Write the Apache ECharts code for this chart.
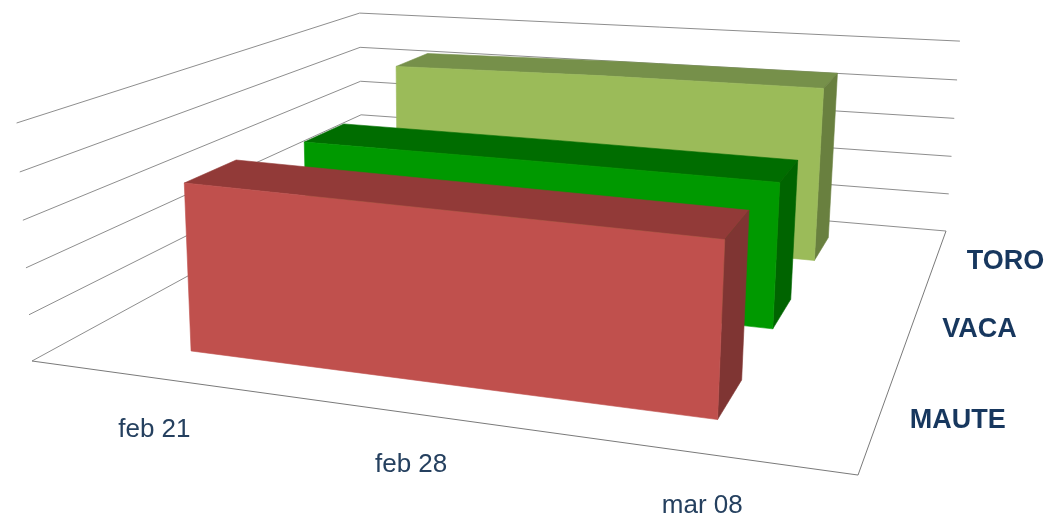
<!DOCTYPE html>
<html>
<head>
<meta charset="utf-8">
<style>html,body{margin:0;padding:0;background:#fff}#c{width:1047px;height:516px;filter:blur(0.4px)}</style>
<script src="https://cdn.jsdelivr.net/npm/echarts@6/dist/echarts.min.js"></script>
</head>
<body>
<div id="c"></div>
<script>
const dates = ['feb 21', 'feb 28', 'mar 08'];
const seriesNames = ['MAUTE', 'VACA', 'TORO'];
const mauteValues = [72.3, 70.8, 69.3];
const vacaValues = [66.5, 66, 65];
const toroValues = [84.4, 85.8, 85.9];
const valueTicks = [0, 20, 40, 60, 80, 100];
const allValues = [mauteValues, vacaValues, toroValues];

const faceColors = [
  { front: '#C0504D', top: '#923A38', side: '#7F3533' },
  { front: '#009900', top: '#006D00', side: '#006400' },
  { front: '#9BBB59', top: '#76904A', side: '#69803F' }
];
const GRID_COLOR = '#8E8E8E';
const FLOOR_COLOR = '#7A7A7A';
const CAT_TEXT = '#25405F';
const SER_TEXT = '#17375E';

// Projective camera: (u along dates, v along series depth, w up) to the page.
const P = { a: 678.4, b: 489.4, p: -16, c: 32,
            d: 32.3, e: -100.3, q: -242.3, f: 361,
            g: -0.17206, h: 0.44031, r: -0.035 };
function project(u, v, w) {
  const den = P.g * u + P.h * v + P.r * w + 1;
  return [(P.a * u + P.b * v + P.p * w + P.c) / den,
          (P.d * u + P.e * v + P.q * w + P.f) / den];
}
// Each series occupies one third of the floor depth, with a gap each side.
const bandNear = i => i / 3 + 0.1;
const bandFar = i => i / 3 + 0.2333;

function toUnit(params, api, cat, val) {
  const pt = api.coord([cat, val]);
  const s = params.coordSys;
  return [(pt[0] - s.x) / s.width, 1 - (pt[1] - s.y) / s.height];
}
function poly(points, color, z) {
  return { type: 'polygon', z2: z, shape: { points },
           style: { fill: color, stroke: color, lineWidth: 0.6 } };
}
function ribbon(idx) {
  return function (params, api) {
    const i = api.value(0);
    const vals = allValues[idx];
    const col = faceColors[idx];
    const near = bandNear(idx), far = bandFar(idx);
    const children = [];
    if (i === 0) {
      const tops = vals.map((v, k) => toUnit(params, api, k, v));
      const nearTop = tops.map(t => project(t[0], near, t[1]));
      const farTop = tops.map(t => project(t[0], far, t[1]));
      const nearBase = tops.map(t => project(t[0], near, 0));
      children.push(poly(farTop.concat(nearTop.slice().reverse()), col.top, 1));
      children.push(poly(nearTop.concat(nearBase.slice().reverse()), col.front, 2));
    }
    if (i === vals.length - 1) {
      const [u0, w0] = toUnit(params, api, i, vals[i]);
      children.push(poly([project(u0, near, 0), project(u0, far, 0),
                          project(u0, far, w0), project(u0, near, w0)], col.side, 1));
    }
    return { type: 'group', children };
  };
}
function walls(params, api) {
  const t = api.value(0);
  const [, w] = toUnit(params, api, 0, t);
  const line = (a, b, color) => ({ type: 'line',
    shape: { x1: a[0], y1: a[1], x2: b[0], y2: b[1] },
    style: { stroke: color, lineWidth: 1 } });
  const A = project(0, 0, w), D = project(0, 1, w), C = project(1, 1, w);
  const children = [line(A, D, GRID_COLOR), line(D, C, GRID_COLOR)];
  if (t === 0) {
    const B = project(1, 0, 0);
    children.push(line(A, B, FLOOR_COLOR), line(B, C, FLOOR_COLOR));
  }
  return { type: 'group', children };
}
function dateLabels(params, api) {
  const i = api.value(0);
  const [u] = toUnit(params, api, i, 0);
  const pt = project(u, 0, 0);
  return { type: 'text', style: { text: dates[i], x: pt[0] + 5, y: pt[1] + 52.5,
    align: 'center', verticalAlign: 'middle',
    font: '26px "Liberation Sans", Arial, sans-serif', fill: CAT_TEXT } };
}
function seriesLabels(params, api) {
  const i = api.value(0);
  const pt = project(1, (bandNear(i) + bandFar(i)) / 2, 0);
  return { type: 'text', style: { text: seriesNames[i], x: pt[0] + 31, y: pt[1] + 2.6,
    align: 'left', verticalAlign: 'middle',
    font: 'bold 27px "Liberation Sans", Arial, sans-serif', fill: SER_TEXT } };
}
const common = { type: 'custom', coordinateSystem: 'cartesian2d', clip: false, silent: true };
const chart = echarts.init(document.getElementById('c'), null, { renderer: 'canvas' });
chart.setOption({
  animation: false,
  backgroundColor: '#ffffff',
  tooltip: { show: false },
  grid: { left: 0, right: 0, top: 0, bottom: 0, containLabel: false },
  xAxis: { type: 'category', data: dates, show: false, boundaryGap: true },
  yAxis: { type: 'value', min: 0, max: 100, interval: 20, show: false },
  series: [
    Object.assign({}, common, { name: 'walls', renderItem: walls, data: valueTicks.map(t => [t]), encode: { y: 0 }, z: 1 }),
    Object.assign({}, common, { name: seriesNames[2], renderItem: ribbon(2), data: toroValues.map((v, i) => [i, v]), z: 2 }),
    Object.assign({}, common, { name: seriesNames[1], renderItem: ribbon(1), data: vacaValues.map((v, i) => [i, v]), z: 3 }),
    Object.assign({}, common, { name: seriesNames[0], renderItem: ribbon(0), data: mauteValues.map((v, i) => [i, v]), z: 4 }),
    Object.assign({}, common, { name: 'dates', renderItem: dateLabels, data: dates.map((d, i) => [i, 0]), z: 5 }),
    Object.assign({}, common, { name: 'names', renderItem: seriesLabels, data: seriesNames.map((d, i) => [i, 0]), z: 5 })
  ]
});
</script>
</body>
</html>
